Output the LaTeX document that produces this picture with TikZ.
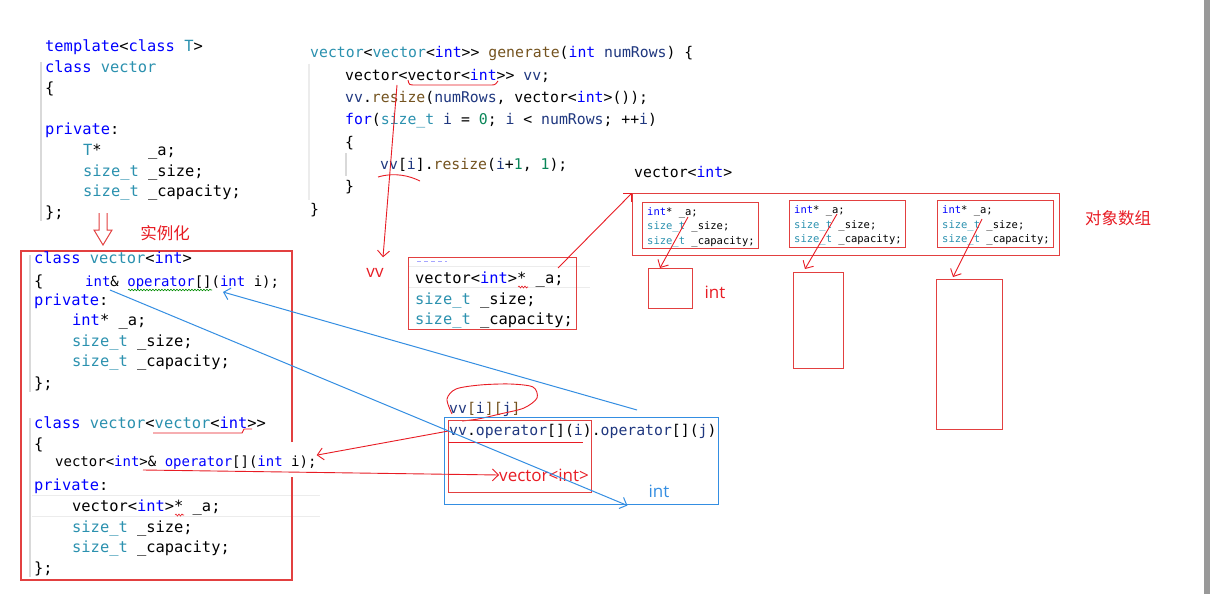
\documentclass[tikz,border=0pt]{standalone}
\usepackage{fontspec}
\setmonofont{DejaVu Sans Mono}
\setsansfont{Open Sans}
\newfontfamily\cjk{Noto Sans CJK SC}
\usetikzlibrary{arrows.meta,decorations.pathmorphing}

\definecolor{kwblue}{RGB}{0,0,255}
\definecolor{tyteal}{RGB}{43,145,175}
\definecolor{fnbrown}{RGB}{116,83,31}
\definecolor{varnavy}{RGB}{31,55,127}
\definecolor{numgreen}{RGB}{9,134,88}
\definecolor{penred}{RGB}{232,28,36}
\definecolor{boxred}{RGB}{226,64,64}
\definecolor{penblue}{RGB}{52,142,226}

\newcommand\Kw[1]{\textcolor{kwblue}{#1}}
\newcommand\Ty[1]{\textcolor{tyteal}{#1}}
\newcommand\Fn[1]{\textcolor{fnbrown}{#1}}
\newcommand\Vr[1]{\textcolor{varnavy}{#1}}
\newcommand\Nm[1]{\textcolor{numgreen}{#1}}
\newcommand\codefont{\ttfamily\fontsize{15.4}{18}\selectfont}
\newcommand\opfont{\ttfamily\fontsize{14}{17}\selectfont}
\newcommand\genfont{\ttfamily\fontsize{14.8}{18}\selectfont}
\newcommand\cellfont{\ttfamily\fontsize{10.5}{12}\selectfont}
\newcommand\penfont{\sffamily\fontsize{17}{20}\selectfont}

\begin{document}
\begin{tikzpicture}[x=1pt,y=-1pt,>={Straight Barb[length=6pt,width=12pt]},
  code/.style={font=\codefont,anchor=base west,inner sep=0pt},
  opcode/.style={font=\opfont,anchor=base west,inner sep=0pt},
  gen/.style={font=\genfont,anchor=base west,inner sep=0pt},
  cell/.style={font=\cellfont,anchor=base west,inner sep=0pt},
  redbox/.style={draw=boxred,line width=1.2pt,anchor=north west,inner sep=0pt},
  inkred/.style={penred,line width=0.9pt},
  inkblue/.style={penblue,line width=1pt},
  penlab/.style={font=\penfont,inner sep=0pt},
  guide/.style={gray!30,line width=1.5pt},
  hl/.style={gray!15,line width=0.8pt}]
\useasboundingbox (0,0) rectangle (1210,594);
\fill[white] (0,0) rectangle (1210,594);
\fill[gray!80] (1204,0) rectangle (1210,594);

% editor margins
\draw[guide] (41,62) -- (41,221);
\draw[guide,gray!15] (309,64) -- (309,200);
\draw[guide] (346,153) -- (346,176);
\draw[guide] (30,255) -- (30,392);
\draw[guide] (30,418) -- (30,577);
\draw[hl] (32,495) -- (320,495) (32,516) -- (320,516);
\draw[hl] (408,266) -- (590,266) (408,287) -- (590,287);

% template class
\node[code] (tpl1) at (45,52) {\Kw{template}<\Kw{class} \Ty{T}>};
\node[code] (tpl2) at (45,73) {\Kw{class} \Ty{vector}};
\node[code] (tpl3) at (45,93) {\{};
\node[code] (tpl4) at (45,134) {\Kw{private}:};
\node[code] (tpl5) at (83,155) {\Ty{T}*~~~~~\_a;};
\node[code] (tpl6) at (83,176) {\Ty{size\_t} \_size;};
\node[code] (tpl7) at (83,196) {\Ty{size\_t} \_capacity;};
\node[code] (tpl8) at (45,217) {\};};

% instantiation
\draw[boxred,line width=1pt] (99,213) -- (99,230) -- (94,230) -- (103,245) -- (112,230) -- (107,230) -- (107,213);
\node[font=\cjk\fontsize{16.5}{18}\selectfont,text=penred,inner sep=0pt] (inst) at (165,233) {实例化};

% specialised classes
\draw[boxred,line width=1.2pt] (292,442) -- (292,251) -- (21,251) -- (21,580) -- (292,580) -- (292,477);
\node[code] (cls1) at (34,263) {\Kw{class} \Ty{vector}<\Kw{int}>};
\node[code] (cls2) at (34,286) {\{};
\node[opcode] (op1) at (85,286) {\Kw{int}\& \Kw{operator}[](\Kw{int} i);};
\node[code] (cls3) at (34,305) {\Kw{private}:};
\node[code] (cls4) at (72,325) {\Kw{int}* \_a;};
\node[code] (cls5) at (72,346) {\Ty{size\_t} \_size;};
\node[code] (cls6) at (72,366) {\Ty{size\_t} \_capacity;};
\node[code] (cls7) at (34,388) {\};};
\node[code] (cls8) at (34,428) {\Kw{class} \Ty{vector}<\Ty{vector}<\Kw{int}>>};
\node[code] (cls9) at (34,449) {\{};
\node[opcode] (op2) at (55,466) {vector<\Kw{int}>\& \Kw{operator}[](\Kw{int} i);};
\node[code] (cls10) at (34,490) {\Kw{private}:};
\node[code] (cls11) at (72,511) {vector<\Kw{int}>* \_a;};
\node[code] (cls12) at (72,532) {\Ty{size\_t} \_size;};
\node[code] (cls13) at (72,552) {\Ty{size\_t} \_capacity;};
\node[code] (cls14) at (34,573) {\};};
\draw[green!55!black,line width=0.6pt,decorate,decoration={snake,amplitude=0.8pt,segment length=3pt}] (128,290) -- (212,290);
\draw[inkred] (153,433) -- (242,433) -- (244,429) -- (252,429);
\draw[inkred,line width=0.6pt,decorate,decoration={snake,amplitude=1pt,segment length=3pt}] (175,515) -- (184,515);

% generate()
\node[gen] (gen1) at (310,58) {\Ty{vector}<\Ty{vector}<\Kw{int}>> \Fn{generate}(\Kw{int} \Vr{numRows}) \{};
\node[gen] (gen2) at (345,80.3) {vector<vector<\Kw{int}>> \Vr{vv};};
\node[gen] (gen3) at (345,102.6) {\Vr{vv}.\Fn{resize}(\Vr{numRows}, vector<\Kw{int}>());};
\node[gen] (gen4) at (345,124.9) {\Kw{for}(\Ty{size\_t} \Vr{i} = \Nm{0}; \Vr{i} < \Vr{numRows}; ++\Vr{i})};
\node[gen] (gen5) at (345,147.2) {\{};
\node[gen] (gen6) at (380,169.5) {\Vr{vv}[\Vr{i}].\Fn{resize}(\Vr{i}+\Nm{1}, \Nm{1});};
\node[gen] (gen7) at (345,191.8) {\}};
\node[gen] (gen8) at (310,214.1) {\}};
\draw[inkred] (408,80) .. controls (409,85) .. (416,85) -- (490,85) .. controls (495,85) .. (498,81);
\draw[inkred] (378,177) .. controls (395,172) and (410,176) .. (420,181);

% vv
\coordinate (vvdecl) at (397,85);
\node[penlab,text=penred] (vvlab) at (375,273) {vv};
\draw[inkred,->] (vvdecl) -- ([xshift=8pt,yshift=11pt]vvlab.north);

% vector<vector<int>> object
\node[redbox,minimum width=168pt,minimum height=72pt] (mbox) at (408,257) {};
\draw[kwblue!35,line width=1pt,dash pattern=on 4pt off 3pt] (417,261) -- (447,261);
\node[code] (mid1) at (415,283) {vector<\Kw{int}>* \_a;};
\node[code] (mid2) at (415,304) {\Ty{size\_t} \_size;};
\node[code] (mid3) at (415,324) {\Ty{size\_t} \_capacity;};
\draw[inkred,line width=0.6pt,decorate,decoration={snake,amplitude=1pt,segment length=3pt}] (518,287) -- (528,287);
\coordinate (ptrA) at (558,268);

% vector<int> object array
\node[gen] (vlab) at (634,177) {vector<\Kw{int}>};
\node[redbox,minimum width=427pt,minimum height=62pt] (vbox) at (632,193) {};
\draw[inkred,->] (ptrA) -- (vbox.north west);
\node[redbox,line width=1pt,minimum width=116pt,minimum height=46pt] (cell1) at (642,202) {};
\node[cell] (c1a) at (647,215.5) {\Kw{int}* \_a;};
\node[cell] (c1b) at (647,229.5) {\Ty{size\_t} \_size;};
\node[cell] (c1c) at (647,244) {\Ty{size\_t} \_capacity;};
\node[redbox,line width=1pt,minimum width=116pt,minimum height=47pt] (cell2) at (789,200) {};
\node[cell] (c2a) at (794,213.5) {\Kw{int}* \_a;};
\node[cell] (c2b) at (794,228.5) {\Ty{size\_t} \_size;};
\node[cell] (c2c) at (794,242.5) {\Ty{size\_t} \_capacity;};
\node[redbox,line width=1pt,minimum width=116pt,minimum height=47pt] (cell3) at (937,200) {};
\node[cell] (c3a) at (942,213.5) {\Kw{int}* \_a;};
\node[cell] (c3b) at (942,228.5) {\Ty{size\_t} \_size;};
\node[cell] (c3c) at (942,242.5) {\Ty{size\_t} \_capacity;};
\node[font=\cjk\fontsize{16.5}{18}\selectfont,text=penred,inner sep=0pt] (objarr) at (1118,218) {对象数组};

% int arrays
\node[redbox,line width=1pt,minimum width=44pt,minimum height=40pt] (arr1) at (648,268) {};
\node[redbox,line width=1pt,minimum width=50pt,minimum height=96pt] (arr2) at (793,272) {};
\node[redbox,line width=1pt,minimum width=66pt,minimum height=150pt] (arr3) at (936,279) {};
\node[penlab,text=penred] (intlab) at (715,292) {int};
\coordinate (pa1) at (688,217);
\coordinate (pa2) at (837,214);
\coordinate (pa3) at (982,219);
\draw[inkred,->] (pa1) -- ([xshift=12pt]arr1.north west);
\draw[inkred,->] (pa2) -- ([xshift=12pt,yshift=3pt]arr2.north west);
\draw[inkred,->] (pa3) -- ([xshift=17pt,yshift=2pt]arr3.north west);

% vv[i][j]
\node[gen] (vvij) at (449,413) {\Vr{vv}\Fn{[}\Vr{i}\Fn{][}\Vr{j}\Fn{]}};
\draw[inkred] plot[smooth] coordinates {(452,414) (447,399) (456,389) (480,385) (510,384) (533,387) (537,398) (524,408) (500,414) (478,419) (462,421)};
\node[redbox,draw=penblue,minimum width=274pt,minimum height=87pt] (callbox) at (444,417) {};
\node[redbox,minimum width=143pt,minimum height=72pt] (recbox) at (448,420) {};
\node[gen] (call) at (449,435) {\Vr{vv}.\Vr{operator}[](\Vr{i}).\Vr{operator}[](\Vr{j})};
\draw[inkred] (448,442) -- (583,442);
\node[penlab,text=penred] (veclab) at (544,475) {vector<int>};
\node[penlab,text=penblue] (intlab2) at (659,491) {int};

% connectors
\coordinate (refA) at (143,470);
\draw[inkred,->] (call.west) -- ([yshift=7pt]op2.east);
\draw[inkred,->] (refA) -- (veclab.west);
\draw[inkblue,->] ([xshift=25pt,yshift=-4pt]op1.base west) -- ([xshift=-21pt,yshift=-8pt]intlab2.south west);
\draw[inkblue,->] ([xshift=193pt,yshift=7pt]callbox.north west) -- ([xshift=138pt,yshift=-6pt]op1.base west);
\end{tikzpicture}
\end{document}
